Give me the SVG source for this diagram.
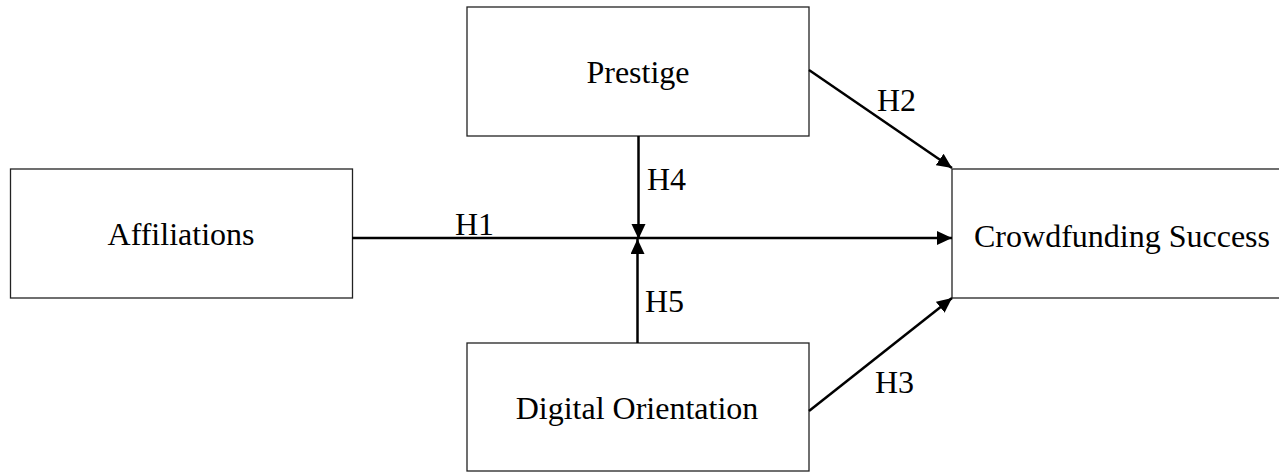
<svg xmlns="http://www.w3.org/2000/svg" width="1279" height="472" viewBox="0 0 1279 472">
<style>
.box{fill:#fff;stroke:#222;stroke-width:1.3}
.lbl{font-family:"Liberation Serif","Times New Roman",serif;font-size:32px;fill:#000}
.mid{text-anchor:middle}
.con{stroke:#000;stroke-width:2.5;fill:none}
</style>
<defs>
<marker id="ah" markerUnits="userSpaceOnUse" markerWidth="16" markerHeight="15" refX="15" refY="7" orient="auto">
<path d="M0,0 L15,7 L0,14 z" fill="#000"/>
</marker>
</defs>
<rect width="1279" height="472" fill="#fff"/>
<g id="affiliations">
<rect class="box" x="10.5" y="169" width="342" height="129"/>
<text class="lbl mid" x="181" y="245">Affiliations</text>
</g>
<g id="prestige">
<rect class="box" x="467" y="7" width="342" height="129"/>
<text class="lbl mid" x="638" y="83">Prestige</text>
</g>
<g id="crowdfunding">
<rect class="box" x="952" y="169" width="342" height="129"/>
<text class="lbl mid" x="1122" y="247">Crowdfunding Success</text>
</g>
<g id="digital">
<rect class="box" x="467" y="343" width="342" height="128"/>
<text class="lbl mid" x="637" y="419">Digital Orientation</text>
</g>
<g id="connectors">
<line class="con" x1="352" y1="238" x2="952" y2="238" marker-end="url(#ah)"/>
<line class="con" x1="638.5" y1="136" x2="638.5" y2="239" marker-end="url(#ah)"/>
<line class="con" x1="637.5" y1="343" x2="637.5" y2="239" marker-end="url(#ah)"/>
<line class="con" x1="809" y1="70" x2="952" y2="168" marker-end="url(#ah)"/>
<line class="con" x1="809" y1="411" x2="952" y2="298" marker-end="url(#ah)"/>
<text class="lbl" x="455" y="235">H1</text>
<text class="lbl" x="877" y="111">H2</text>
<text class="lbl" x="875" y="393">H3</text>
<text class="lbl" x="647" y="190">H4</text>
<text class="lbl" x="645" y="312">H5</text>
</g>
</svg>
